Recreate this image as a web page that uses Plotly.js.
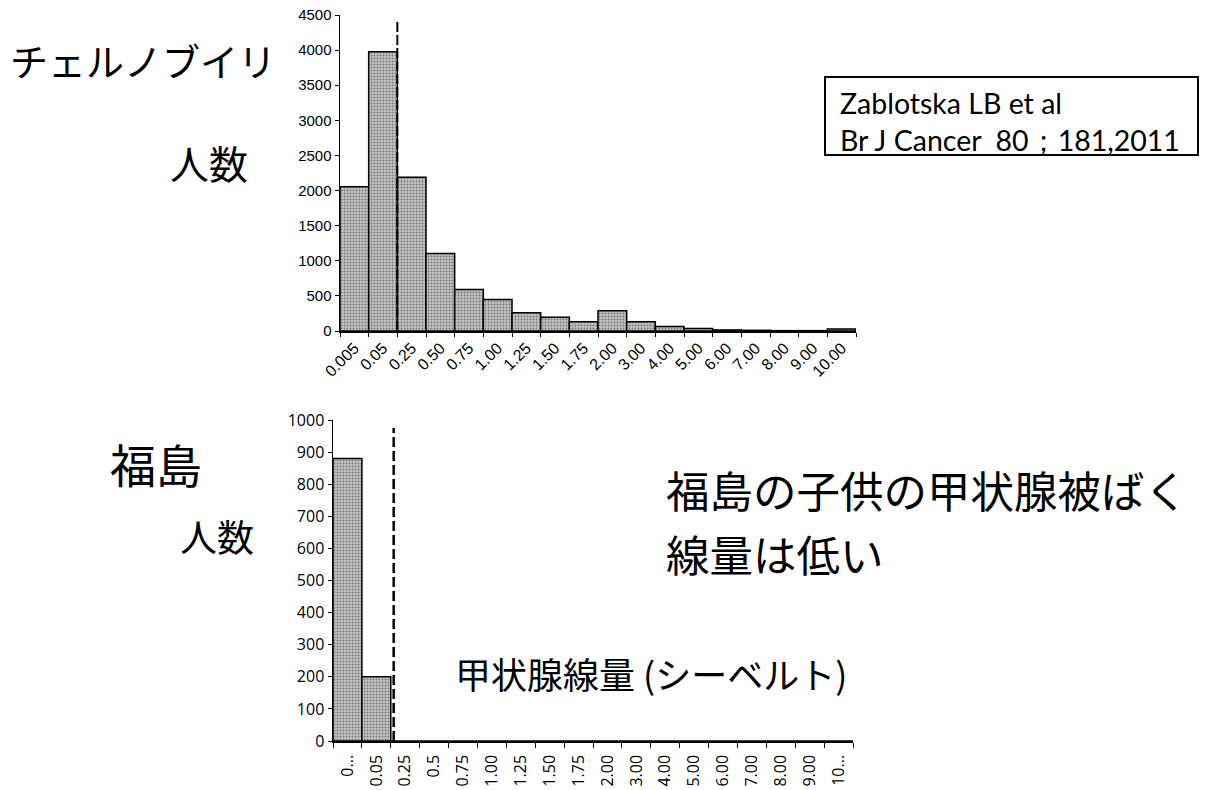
<!DOCTYPE html>
<html>
<head>
<meta charset="utf-8">
<script src="https://cdn.plot.ly/plotly-3.0.1.min.js"></script>
<style>html,body{margin:0;padding:0;background:#fff;}#chart{width:1214px;height:790px;}</style>
</head>
<body>
<div id="chart"></div>
<script>
// Chernobyl (top) categories and counts
const chernobylCategories = ["0.005","0.05","0.25","0.50","0.75","1.00","1.25","1.50","1.75","2.00","3.00","4.00","5.00","6.00","7.00","8.00","9.00","10.00"];
const chernobylCounts = [2055, 3975, 2190, 1105, 590, 450, 260, 195, 130, 290, 130, 65, 35, 15, 10, 5, 5, 30];
// Fukushima (bottom) categories and counts
const fukushimaCategories = ["0...","0.05","0.25","0.5","0.75","1.00","1.25","1.50","1.75","2.00","3.00","4.00","5.00","6.00","7.00","8.00","9.00","10..."];
const fukushimaCounts = [880, 200, 0, 0, 0, 0, 0, 0, 0, 0, 0, 0, 0, 0, 0, 0, 0, 0];

const W = 1214, H = 790;
const px = v => v / W;
const py = v => 1 - v / H;

const barStyle = {
  color: '#b4b4b4',
  line: {color: '#000', width: 1.5},
  pattern: {shape: '.', fgcolor: '#7a7a7a', bgcolor: '#c4c4c4', size: 3, solidity: 0.35}
};

const traces = [
  {type: 'bar', x: chernobylCategories, y: chernobylCounts, xaxis: 'x', yaxis: 'y', marker: barStyle, width: 1, hoverinfo: 'x+y'},
  {type: 'bar', x: fukushimaCategories, y: fukushimaCounts, xaxis: 'x2', yaxis: 'y2', marker: barStyle, width: 1, hoverinfo: 'x+y'}
];

const axisCommon = {showgrid: false, zeroline: false, showline: true, linecolor: '#000', linewidth: 1.5, ticks: 'outside', ticklen: 4, tickcolor: '#000', fixedrange: true};

const layout = {
  width: W, height: H,
  margin: {l: 0, r: 0, t: 0, b: 0},
  paper_bgcolor: '#fff', plot_bgcolor: '#fff',
  showlegend: false,
  bargap: 0,
  xaxis: Object.assign({}, axisCommon, {domain: [px(340), px(856)], anchor: 'y', type: 'category', tickson: 'boundaries', tickangle: -45, range: [-0.5, 17.5],
    tickfont: {family: 'Liberation Sans, Arial', size: 16, color: '#000'}}),
  yaxis: Object.assign({}, axisCommon, {domain: [py(331), py(15)], anchor: 'x', range: [0, 4500], dtick: 500,
    tickfont: {family: 'Liberation Sans, Arial', size: 15, color: '#000'}}),
  xaxis2: Object.assign({}, axisCommon, {domain: [px(333), px(853)], anchor: 'y2', type: 'category', tickson: 'boundaries', tickangle: -90, range: [-0.5, 17.5],
    ticklen: 5, ticklabelstandoff: 6,
    tickfont: {family: 'Open Sans, Noto Sans', size: 16, color: '#000'}}),
  yaxis2: Object.assign({}, axisCommon, {domain: [py(741), py(420)], anchor: 'x2', range: [0, 1000], dtick: 100,
    tickfont: {family: 'Open Sans, Noto Sans', size: 16, color: '#000'}}),
  shapes: [
    {type: 'line', xref: 'x', yref: 'y', x0: 1.5, x1: 1.5, y0: 0, y1: 4400, line: {color: '#000', width: 2, dash: '10px,3px'}},
    {type: 'line', xref: 'x2', yref: 'y2', x0: 1.6, x1: 1.6, y0: 0, y1: 975, line: {color: '#000', width: 2.5, dash: '10px,4px'}},
    {type: 'rect', xref: 'paper', yref: 'paper', x0: px(825), x1: px(1198), y0: py(155), y1: py(77), line: {color: '#000', width: 2}}
  ],
  annotations: [
    {xref: 'paper', yref: 'paper', x: px(8), y: py(60), xanchor: 'left', yanchor: 'middle', showarrow: false, text: 'チェルノブイリ',
      font: {family: 'Noto Sans CJK JP', size: 38, color: '#000'}},
    {xref: 'paper', yref: 'paper', x: px(168), y: py(162), xanchor: 'left', yanchor: 'middle', showarrow: false, text: '人数',
      font: {family: 'Noto Sans CJK JP', size: 39, color: '#000'}},
    {xref: 'paper', yref: 'paper', x: px(838), y: py(122), xanchor: 'left', yanchor: 'middle', align: 'left', showarrow: false,
      text: 'Zablotska LB et al<br>Br J Cancer&nbsp;&nbsp;80；181,2011',
      font: {family: 'Lato, Open Sans', size: 28.5, color: '#000'}},
    {xref: 'paper', yref: 'paper', x: px(108), y: py(463), xanchor: 'left', yanchor: 'middle', showarrow: false, text: '福島',
      font: {family: 'Noto Sans CJK JP', size: 46, color: '#000'}},
    {xref: 'paper', yref: 'paper', x: px(178), y: py(536), xanchor: 'left', yanchor: 'middle', showarrow: false, text: '人数',
      font: {family: 'Noto Sans CJK JP', size: 37, color: '#000'}},
    {xref: 'paper', yref: 'paper', x: px(664), y: py(489), xanchor: 'left', yanchor: 'middle', showarrow: false,
      text: '福島の子供の甲状腺被ばく',
      font: {family: 'Noto Sans CJK JP', size: 43.5, color: '#000'}},
    {xref: 'paper', yref: 'paper', x: px(664), y: py(553), xanchor: 'left', yanchor: 'middle', showarrow: false,
      text: '線量は低い',
      font: {family: 'Noto Sans CJK JP', size: 43.5, color: '#000'}},
    {xref: 'paper', yref: 'paper', x: px(453), y: py(673), xanchor: 'left', yanchor: 'middle', showarrow: false, text: '甲状腺線量 (シーベルト)',
      font: {family: 'Noto Sans CJK JP', size: 36, color: '#000'}}
  ]
};

Plotly.newPlot('chart', traces, layout, {displayModeBar: false, staticPlot: true});
</script>
</body>
</html>
